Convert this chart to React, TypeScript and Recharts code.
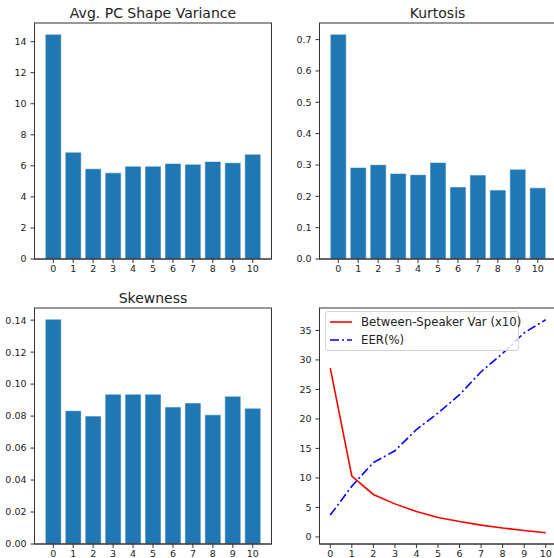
import React from "react"
import { BarChart, Bar, LineChart, Line, XAxis, YAxis, Legend } from "recharts"

// principal component index (x axis of every panel)
const COMPONENTS = [0, 1, 2, 3, 4, 5, 6, 7, 8, 9, 10]

const SHAPE_VARIANCE = [14.47, 6.88, 5.81, 5.55, 5.98, 5.98, 6.15, 6.1, 6.28, 6.2, 6.75]
const KURTOSIS = [0.717, 0.292, 0.301, 0.273, 0.269, 0.308, 0.23, 0.268, 0.22, 0.286, 0.227]
const SKEWNESS = [0.1406, 0.0834, 0.08, 0.0937, 0.0937, 0.0937, 0.0857, 0.0882, 0.0808, 0.0924, 0.0849]
const BETWEEN_SPEAKER_VAR = [28.6, 10.3, 7.2, 5.6, 4.3, 3.3, 2.6, 2.0, 1.5, 1.1, 0.7]
const EER = [3.7, 8.6, 12.6, 14.6, 18.2, 21.0, 24.1, 28.0, 31.1, 34.6, 36.8]

const SHAPE_TICKS = [0, 2, 4, 6, 8, 10, 12, 14]
const KURTOSIS_TICKS = [0, 0.1, 0.2, 0.3, 0.4, 0.5, 0.6, 0.7]
const SKEWNESS_TICKS = [0, 0.02, 0.04, 0.06, 0.08, 0.1, 0.12, 0.14]
const LINE_TICKS = [0, 5, 10, 15, 20, 25, 30, 35]

const FONT = "'DejaVu Sans', sans-serif"
const INK = "#222"
const SPINE = "#333"
const BAR_BLUE = "#1f77b4"

// panel geometry (matplotlib-like 2x2 grid)
const PANEL_W = 280
const PANEL_H = 285
const STEP = 284.5
const Y_AXIS_W = 34.5
const PLOT_W = 237
const PLOT_H = 236
const MARGIN = { top: 23, right: 8.5, bottom: 0, left: 0 }
const X_AXIS_H = 26
// bars span -0.4..10.4, matplotlib pads 5% -> extra 0.44 units each side
const BAR_PAD = (0.44 * PLOT_W) / 11.88

const tickStyle = { fontSize: 9.5, fill: INK, fontFamily: FONT }

const barRows = (values: number[]) => COMPONENTS.map((c, i) => ({ name: String(c), value: values[i] }))

const lineRows = COMPONENTS.map((c, i) => ({ x: c, bsv: BETWEEN_SPEAKER_VAR[i], eer: EER[i] }))

const LINE_DASH: Record<string, string | undefined> = { bsv: undefined, eer: "9 3 2 3" }

function Title({ text }: { text: string }) {
  return (
    <div
      style={{
        position: "absolute",
        left: Y_AXIS_W,
        top: 5,
        width: PLOT_W,
        textAlign: "center",
        fontFamily: FONT,
        fontSize: 14,
        lineHeight: "16px",
        color: INK,
        pointerEvents: "none",
      }}
    >
      {text}
    </div>
  )
}

// the full axes box (matplotlib spines on all four sides)
function Frame() {
  return (
    <svg
      width={PANEL_W}
      height={PANEL_H}
      style={{ position: "absolute", left: 0, top: 0, pointerEvents: "none" }}
    >
      <rect x={Y_AXIS_W} y={MARGIN.top} width={PLOT_W} height={PLOT_H} fill="none" stroke={SPINE} strokeWidth={1} />
    </svg>
  )
}

interface BarPanelProps {
  title: string
  values: number[]
  ticks: number[]
  domain: [number, number]
  digits: number
  left: number
  top: number
}

function BarPanel({ title, values, ticks, domain, digits, left, top }: BarPanelProps) {
  return (
    <div style={{ position: "absolute", left, top, width: PANEL_W, height: PANEL_H }}>
      <BarChart width={PANEL_W} height={PANEL_H} data={barRows(values)} margin={MARGIN} barCategoryGap="10%">
        <XAxis
          dataKey="name"
          interval={0}
          height={X_AXIS_H}
          padding={{ left: BAR_PAD, right: BAR_PAD }}
          tick={tickStyle}
          tickSize={4}
          tickMargin={2}
          stroke={SPINE}
        />
        <YAxis
          type="number"
          domain={domain}
          ticks={ticks}
          width={Y_AXIS_W}
          tick={tickStyle}
          tickSize={4}
          tickMargin={4}
          stroke={SPINE}
          tickFormatter={(v: number) => (digits ? v.toFixed(digits) : String(v))}
        />
        <Bar
          dataKey="value"
          fill={BAR_BLUE}
          stroke="#ffffff"
          strokeOpacity={0.55}
          strokeWidth={1}
          isAnimationActive={false}
        />
      </BarChart>
      <Frame />
      <Title text={title} />
    </div>
  )
}

const renderLegend = (props: any) => {
  const { payload } = props
  return (
    <div
      style={{
        boxSizing: "border-box",
        width: 194,
        height: 40,
        border: "1px solid #d4d4d4",
        borderRadius: 3,
        background: "rgba(255,255,255,0.8)",
        paddingTop: 0.5,
      }}
    >
      {(payload || []).map((entry: any) => (
        <div key={entry.value} style={{ display: "flex", alignItems: "center", height: 18.3 }}>
          <svg width={35} height={10} style={{ flex: "none" }}>
            <line
              x1={4}
              x2={26}
              y1={5}
              y2={5}
              stroke={entry.color}
              strokeWidth={1.6}
              strokeDasharray={LINE_DASH[entry.dataKey]}
            />
          </svg>
          <span style={{ fontFamily: FONT, fontSize: 11.7, color: INK, whiteSpace: "nowrap" }}>{entry.value}</span>
        </div>
      ))}
    </div>
  )
}

function LinePanel({ left, top }: { left: number; top: number }) {
  return (
    <div style={{ position: "absolute", left, top, width: PANEL_W, height: PANEL_H }}>
      <LineChart width={PANEL_W} height={PANEL_H} data={lineRows} margin={MARGIN}>
        <XAxis
          dataKey="x"
          type="number"
          domain={[-0.5, 10.5]}
          ticks={COMPONENTS}
          interval={0}
          height={X_AXIS_H}
          tick={tickStyle}
          tickSize={4}
          tickMargin={2}
          stroke={SPINE}
        />
        <YAxis
          type="number"
          domain={[-1.2, 38.8]}
          ticks={LINE_TICKS}
          width={Y_AXIS_W}
          tick={tickStyle}
          tickSize={4}
          tickMargin={4}
          stroke={SPINE}
        />
        <Line
          dataKey="bsv"
          name="Between-Speaker Var (x10)"
          type="linear"
          stroke="#ff0000"
          strokeWidth={1.6}
          dot={false}
          activeDot={false}
          isAnimationActive={false}
        />
        <Line
          dataKey="eer"
          name="EER(%)"
          type="linear"
          stroke="#0000ff"
          strokeWidth={1.6}
          strokeDasharray={LINE_DASH.eer}
          dot={false}
          activeDot={false}
          isAnimationActive={false}
        />
        <Legend
          layout="vertical"
          align="center"
          verticalAlign="middle"
          content={renderLegend}
          wrapperStyle={{ left: 40.5, top: 26.5, width: 194, height: 40 }}
        />
      </LineChart>
      <Frame />
    </div>
  )
}

export default function App() {
  return (
    <div
      style={{
        position: "absolute",
        left: 0,
        top: 0,
        width: 554,
        height: 558,
        overflow: "hidden",
        background: "#fff",
      }}
    >
      <BarPanel title="Avg. PC Shape Variance" values={SHAPE_VARIANCE} ticks={SHAPE_TICKS} domain={[0, 15.2]} digits={0} left={0} top={0} />
      <BarPanel title="Kurtosis" values={KURTOSIS} ticks={KURTOSIS_TICKS} domain={[0, 0.753]} digits={1} left={STEP} top={0} />
      <BarPanel title="Skewness" values={SKEWNESS} ticks={SKEWNESS_TICKS} domain={[0, 0.1476]} digits={2} left={0} top={STEP} />
      <LinePanel left={STEP} top={STEP} />
    </div>
  )
}
